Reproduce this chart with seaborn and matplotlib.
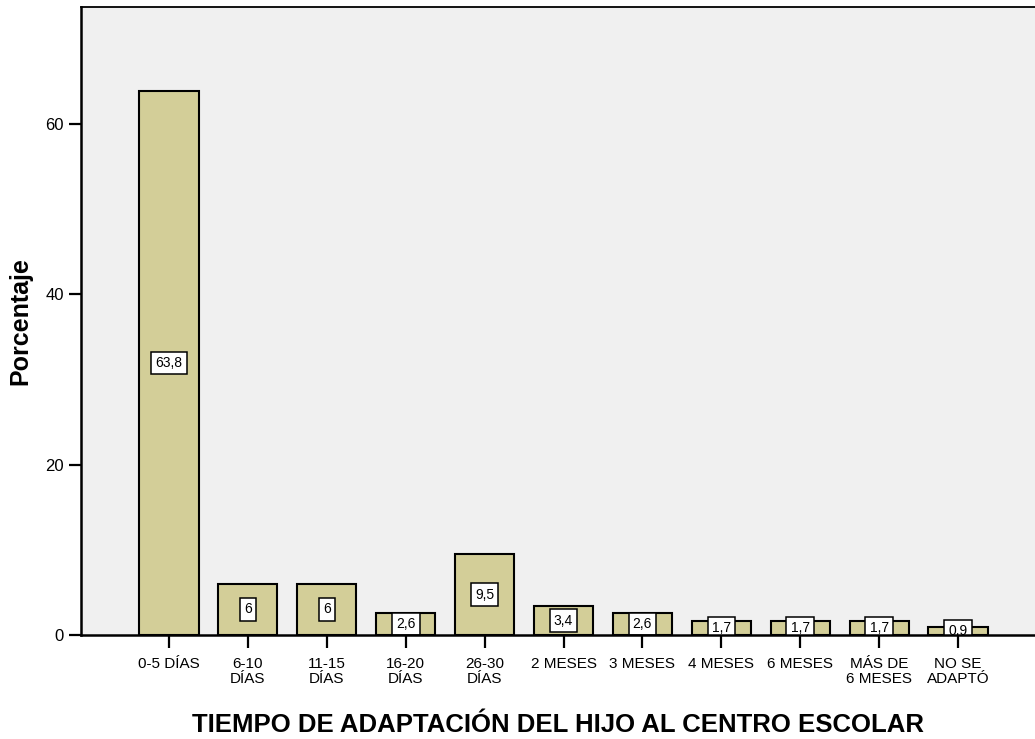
import matplotlib
matplotlib.use("Agg")
import matplotlib.pyplot as plt
import seaborn as sns
import pandas as pd

categorias = ["0-5 DÍAS", "6-10\nDÍAS", "11-15\nDÍAS", "16-20\nDÍAS", "26-30\nDÍAS",
              "2 MESES", "3 MESES", "4 MESES", "6 MESES", "MÁS DE\n6 MESES", "NO SE\nADAPTÓ"]
porcentajes = [63.8, 6, 6, 2.6, 9.5, 3.4, 2.6, 1.7, 1.7, 1.7, 0.9]
etiquetas = ["63,8", "6", "6", "2,6", "9,5", "3,4", "2,6", "1,7", "1,7", "1,7", "0,9"]
ticks_y = [0, 20, 40, 60]

sns.set_theme(style="white")
plt.rcParams["font.family"] = ["Liberation Sans", "DejaVu Sans"]
plt.rcParams.update({"text.color": "black", "axes.labelcolor": "black",
                     "xtick.color": "black", "ytick.color": "black"})

df = pd.DataFrame({"cat": categorias, "pct": porcentajes})

fig = plt.figure(figsize=(10.35, 7.39), dpi=100)
ax = fig.add_axes([0.0783, 0.1407, 0.9217, 0.8498])
ax.set_facecolor("#f0f0f0")

sns.barplot(data=df, x="cat", y="pct", ax=ax, color="#d3ce98", saturation=1,
            width=0.75, edgecolor="black", linewidth=1.5, zorder=2)

# value boxes centred at half the bar height, clipped at the baseline
for i, (v, t) in enumerate(zip(porcentajes, etiquetas)):
    ax.text(i, v / 2, t, ha="center", va="center", fontsize=10, color="black", zorder=5,
            clip_on=True,
            bbox=dict(boxstyle="square,pad=0.3", facecolor="white", edgecolor="black", linewidth=1.1))

ax.set_xlim(-1.115, 10.976)
ax.set_ylim(0, 73.7)
ax.set_yticks(ticks_y)
ax.set_yticklabels([str(t) for t in ticks_y], fontsize=12)
ax.set_xticks(range(len(categorias)))
ax.set_xticklabels(categorias, fontsize=11, linespacing=1.1)

for s in ["left", "bottom"]:
    ax.spines[s].set_color("black")
    ax.spines[s].set_linewidth(1.8)
    ax.spines[s].set_zorder(6)
ax.spines["top"].set_color("black")
ax.spines["top"].set_linewidth(1.3)
ax.spines["right"].set_visible(False)

ax.tick_params(axis="x", direction="out", length=9, width=1.6, bottom=True, pad=7)
ax.tick_params(axis="y", direction="out", length=8.5, width=1.6, left=True, pad=4)

ax.set_ylabel("Porcentaje", fontsize=18, fontweight="bold", labelpad=9)
ax.set_xlabel("TIEMPO DE ADAPTACIÓN DEL HIJO AL CENTRO ESCOLAR", fontsize=18.5,
              fontweight="bold", labelpad=19)

fig.savefig("out.png", dpi=100)
